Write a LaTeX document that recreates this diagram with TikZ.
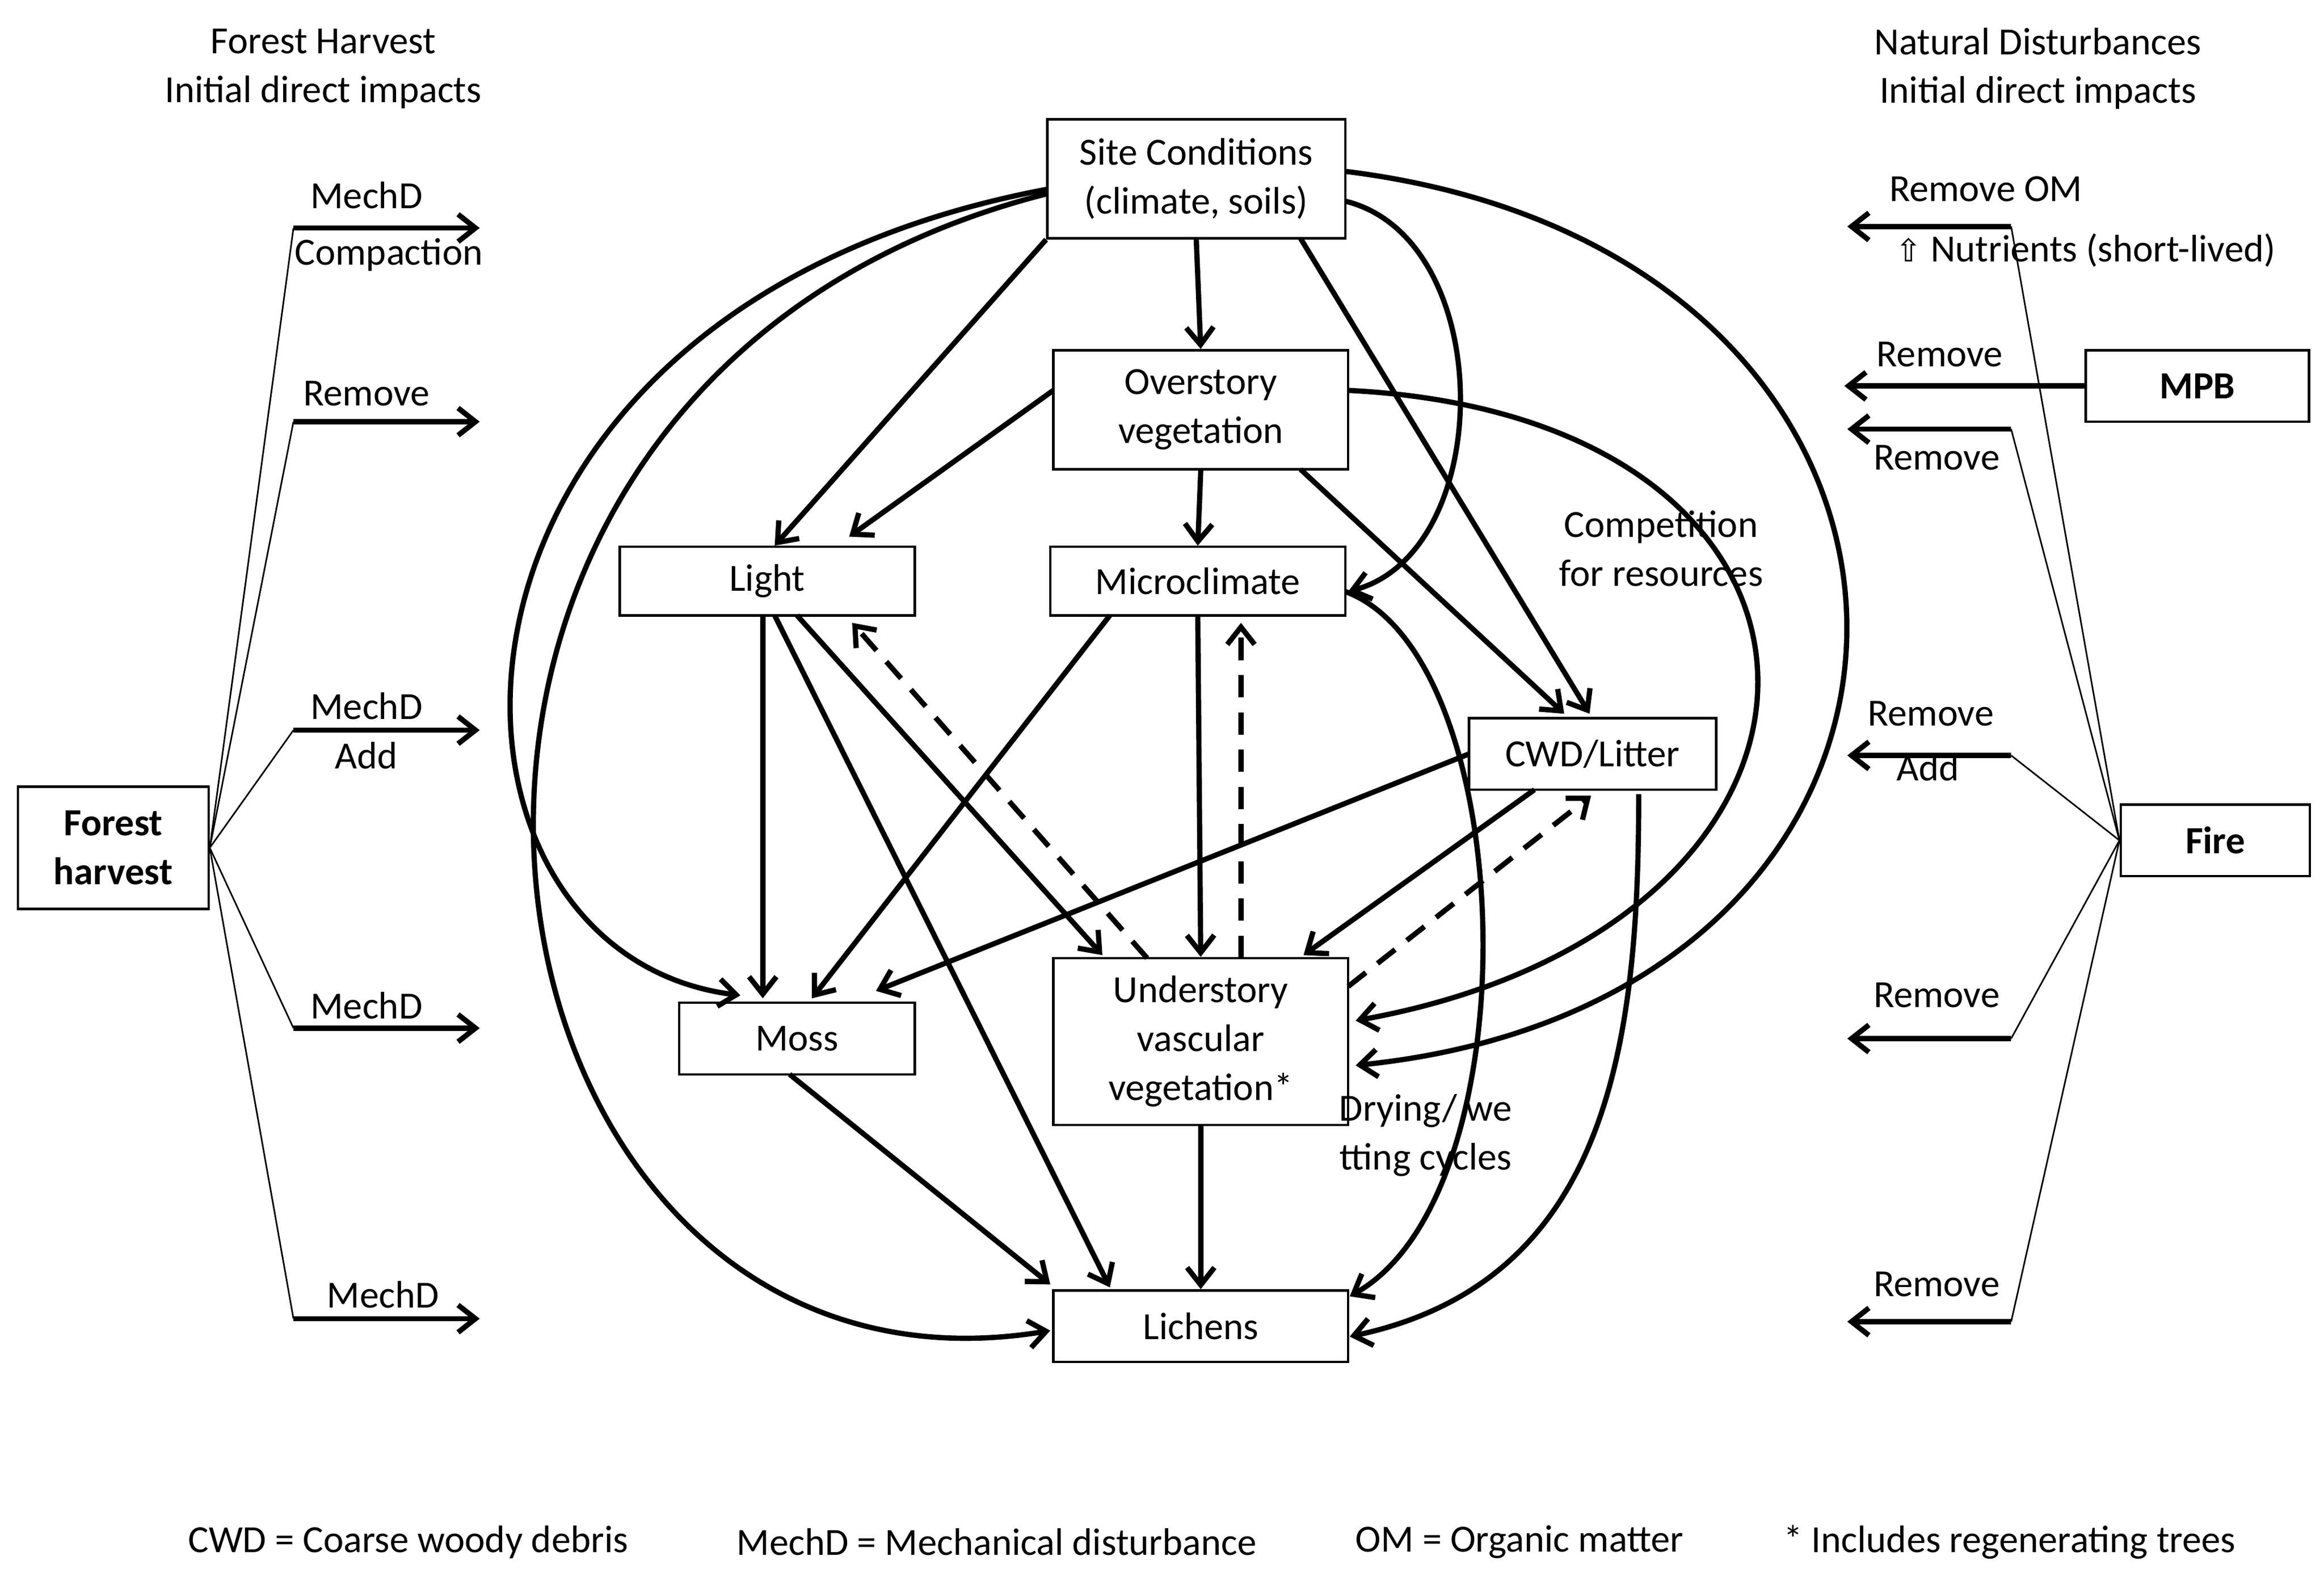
\documentclass[tikz,border=0pt]{standalone}
\usepackage{fontspec}
\setmainfont{Carlito}
\newfontfamily\djv{DejaVu Sans}
\usetikzlibrary{arrows.meta,calc}
\begin{document}
\begin{tikzpicture}[x=0.03cm,y=-0.03cm,
  every node/.style={font=\fontsize{22}{28}\selectfont,align=center,inner sep=0pt},
  box/.style={draw,line width=1.4pt,minimum width=#1*0.03cm},
  arr/.style={line width=3pt,-{Straight Barb[length=0.35cm,width=0.55cm]}},
  fan/.style={line width=0.9pt},
  dsh/.style={arr,dash pattern=on 0.45cm off 0.3cm}]
\useasboundingbox (0,0) rectangle (1560,1053);
% titles
\node at (217,46) {Forest Harvest\\Initial direct impacts};
\node at (1368,46) {Natural Disturbances\\Initial direct impacts};
% boxes
\node[box=200,minimum height=2.4cm] (site) at (803,120) {Site Conditions\\(climate, soils)};
\node[box=198,minimum height=2.4cm] (over) at (806,275) {Overstory\\vegetation};
\node[box=198,minimum height=1.38cm] (light) at (515,390) {Light};
\node[box=198,minimum height=1.38cm] (micro) at (804,390) {Microclimate};
\node[box=166,minimum height=1.44cm] (cwd) at (1069,506) {CWD/Litter};
\node[box=158,minimum height=1.44cm] (moss) at (535,697) {Moss};
\node[box=198,minimum height=3.36cm] (under) at (806,699) {Understory\\vascular\\vegetation*};
\node[box=198,minimum height=1.44cm] (lich) at (806,890) {Lichens};
\node[box=128,minimum height=2.46cm,font=\fontsize{22}{28}\selectfont\bfseries] (harv) at (76,569) {Forest\\harvest};
\node[box=150,minimum height=1.44cm,font=\fontsize{22}{28}\selectfont\bfseries] (mpb) at (1475,259) {MPB};
\node[box=127,minimum height=1.44cm,font=\fontsize{22}{28}\selectfont\bfseries] (fire) at (1487,564) {Fire};
% internal straight arrows
\draw[arr] (site.south) -- (over.north);
\draw[arr] (site.south west) -- ($(light.north)+(5,0)$);
\draw[arr] ($(site)+(70,40)$) -- ($(cwd)+(-2,-27)$);
\draw[arr] (over.south) -- (micro.north);
\draw[arr] ($(over)+(-99,-13)$) -- ($(light.north)+(55,-6)$);
\draw[arr] ($(over)+(67,40)$) -- ($(cwd)+(-19,-27)$);
\draw[arr] ($(light)+(-3,23)$) -- ($(moss)+(-23,-27)$);
\draw[arr] ($(light)+(5,23)$) -- ($(lich)+(-61,-26)$);
\draw[arr] ($(light)+(20,23)$) -- ($(under)+(-66,-58)$);
\draw[arr] ($(micro)+(-59,23)$) -- ($(moss)+(10,-27)$);
\draw[arr] ($(micro)+(0,23)$) -- (under.north);
\draw[dsh] ($(under)+(-36,-56)$) -- ($(light)+(57,28)$);
\draw[dsh] ($(under)+(27,-56)$) -- ($(micro)+(29,28)$);
\draw[arr] ($(cwd)+(-83,0)$) -- ($(moss)+(53,-32)$);
\draw[arr] ($(cwd)+(-39,24)$) -- ($(under)+(69,-58)$);
\draw[dsh] ($(under)+(99,-37)$) -- ($(cwd)+(-1,28)$);
\draw[arr] ($(moss)+(-5,24)$) -- ($(lich)+(-101,-28)$);
\draw[arr] (under.south) -- (lich.north);
% curves
\draw[arr] ($(site)+(100,15)$) .. controls (1005,160) and (1005,370) .. ($(micro)+(101,7)$);
\draw[arr] ($(site)+(-100,7)$) .. controls (260,210) and (270,640) .. ($(moss)+(-38,-29)$);
\draw[arr] ($(site)+(-100,10)$) .. controls (190,260) and (300,960) .. ($(lich)+(-101,3)$);
\draw[arr] ($(site)+(100,-5)$) .. controls (1350,170) and (1350,670) .. ($(under)+(104,16)$);
\draw[arr] ($(over)+(99,-13)$) .. controls (1270,280) and (1270,620) .. ($(under)+(104,-14)$);
\draw[arr] ($(micro)+(99,7)$) .. controls (1020,440) and (1030,800) .. ($(lich)+(100,-20)$);
\draw[arr] ($(cwd)+(31,27)$) .. controls (1100,700) and (1080,860) .. ($(lich)+(100,7)$);
% internal labels
\node at (1115,368) {Competition\\for resources};
\node at (957,762) {Drying/ we\\tting cycles};
% left fan
\foreach \n/\y in {1/153,2/283,3/490,4/690,5/885}{
  \coordinate (f\n) at (197,\y);
  \coordinate (e\n) at (322,\y);
  \draw[fan] (harv.east) -- (f\n);
  \draw[arr] (f\n) -- (e\n);
}
\node at (246,131) {MechD};
\node at (261,171) {Compaction};
\node at (246,264) {Remove};
\node at (246,474) {MechD};
\node at (246,507) {Add};
\node at (246,675) {MechD};
\node at (257,869) {MechD};
% right fan
\foreach \n/\y in {1/152,2/288,3/507,4/697,5/887}{
  \coordinate (g\n) at (1350,\y);
  \coordinate (h\n) at (1240,\y);
  \draw[fan] (fire.west) -- (g\n);
  \draw[arr] (g\n) -- (h\n);
}
\coordinate (hm) at (1238,259);
\draw[arr] (mpb.west) -- (hm);
\node at (1333,127) {Remove OM};
\node at (1400,168) {{\djv\fontsize{18}{22}\selectfont ⇧} Nutrients (short-lived)};
\node at (1302,238) {Remove};
\node at (1300,307) {Remove};
\node at (1296,479) {Remove};
\node at (1294,515) {Add};
\node at (1300,668) {Remove};
\node at (1300,862) {Remove};
% footer
\node at (274,1035) {CWD = Coarse woody debris};
\node at (669,1035) {MechD = Mechanical disturbance};
\node at (1020,1035) {OM = Organic matter};
\node at (1349,1035) {* Includes regenerating trees};
\end{tikzpicture}
\end{document}
